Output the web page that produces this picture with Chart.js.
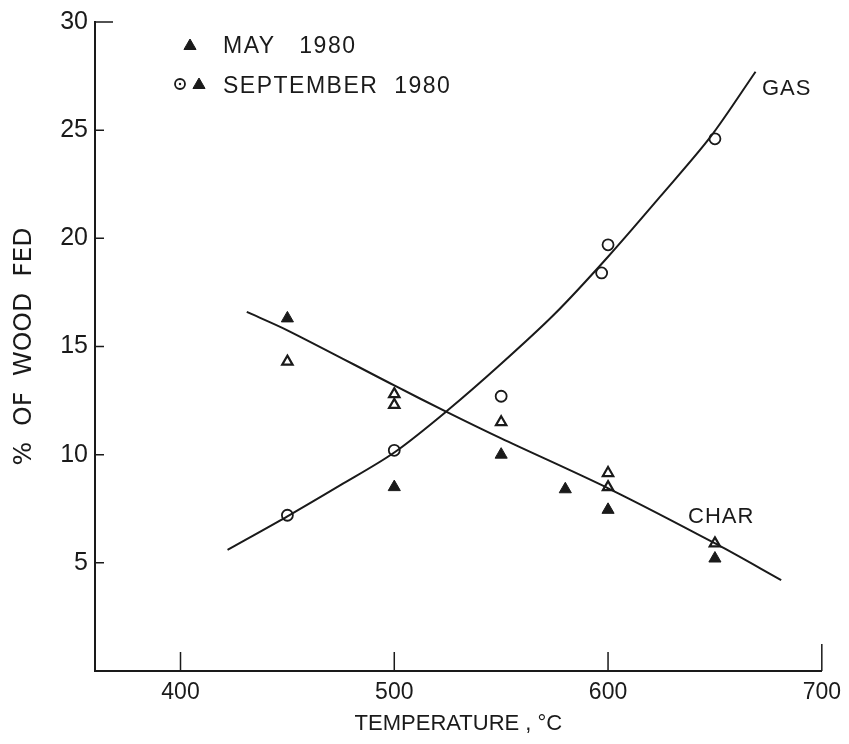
<!DOCTYPE html>
<html>
<head>
<meta charset="utf-8">
<script src="https://cdn.jsdelivr.net/npm/chart.js@4/dist/chart.umd.min.js"></script>
<style>
  html, body { margin: 0; padding: 0; background: #fff; }
  #wrap { width: 849px; height: 744px; }
</style>
</head>
<body>
<div id="wrap"><canvas id="chart" width="849" height="744"></canvas></div>
<script>
// ===== data =====
const xTicks = [400, 500, 600, 700];
const yTicks = [5, 10, 15, 20, 25, 30];

// fitted curves
const gasCurveX = [422, 450, 475, 500, 525, 550, 575, 600, 625, 648, 669];
const gasCurveY = [5.6, 7.15, 8.6, 10.1, 12.05, 14.2, 16.5, 19.15, 22.0, 24.7, 27.7];
const charCurveX = [431, 450, 500, 524, 550, 601, 651, 681];
const charCurveY = [16.6, 15.75, 13.2, 12.0, 10.75, 8.4, 5.85, 4.2];

// September 1980 gas (circles)
const gasSepX = [450, 500, 550, 597, 600, 650];
const gasSepY = [7.2, 10.2, 12.7, 18.4, 19.7, 24.6];
// May 1980 char (filled triangles)
const charMayX = [450, 500, 550, 580, 600, 650];
const charMayY = [16.3, 8.5, 10.0, 8.4, 7.45, 5.2];
// September 1980 char (open triangles)
const charSepX = [450, 500, 500, 550, 600, 600, 650];
const charSepY = [14.3, 12.8, 12.3, 11.5, 9.15, 8.5, 5.9];

const ink = '#1a1a1a';
const pts = (xs, ys) => xs.map((x, i) => ({ x: x, y: ys[i] }));

// ========== 内向刻度、图例、曲线标注 ==========
const decorPlugin = {
    id: 'decor',
    afterDraw(chart) {
        const ctx = chart.ctx;
        const xs = chart.scales.x, ys = chart.scales.y;
        const left = chart.chartArea.left, bottom = chart.chartArea.bottom;
        ctx.save();
        ctx.strokeStyle = ink;
        ctx.lineWidth = 1.5;
        ctx.beginPath();
        yTicks.forEach(v => {
            const py = ys.getPixelForValue(v);
            ctx.moveTo(left, py);
            ctx.lineTo(left + (v === 30 ? 18 : 9), py);
        });
        xTicks.forEach(v => {
            const px = xs.getPixelForValue(v);
            ctx.moveTo(px, bottom);
            ctx.lineTo(px, bottom - (v === 700 ? 27 : 19));
        });
        ctx.stroke();

        // legend
        ctx.fillStyle = ink;
        ctx.strokeStyle = ink;
        ctx.lineWidth = 1;
        Chart.helpers.drawPoint(ctx, { pointStyle: 'triangle', radius: 7, borderWidth: 1 }, 190, 46);
        Chart.helpers.drawPoint(ctx, { pointStyle: 'triangle', radius: 7, borderWidth: 1 }, 199, 85);
        ctx.fillStyle = '#fff';
        ctx.lineWidth = 1.8;
        Chart.helpers.drawPoint(ctx, { pointStyle: 'circle', radius: 5, borderWidth: 1.8 }, 180, 84);
        ctx.fillStyle = ink;
        ctx.beginPath();
        ctx.arc(180, 84, 1.2, 0, Math.PI * 2);
        ctx.fill();

        ctx.font = '23px "Liberation Sans"';
        ctx.textBaseline = 'middle';
        ctx.textAlign = 'left';
        ctx.letterSpacing = '1.5px';
        ctx.fillText('MAY   1980', 223, 47);
        ctx.fillText('SEPTEMBER  1980', 223, 87);

        ctx.font = '22px "Liberation Sans"';
        ctx.letterSpacing = '1px';
        ctx.fillText('GAS', 762, 89);
        ctx.fillText('CHAR', 688, 517);
        ctx.restore();
    }
};

new Chart(document.getElementById('chart'), {
    type: 'scatter',
    data: {
        datasets: [
            {
                label: 'GAS',
                data: pts(gasCurveX, gasCurveY),
                showLine: true,
                borderColor: ink,
                borderWidth: 2,
                pointRadius: 0,
                tension: 0.3
            },
            {
                label: 'CHAR',
                data: pts(charCurveX, charCurveY),
                showLine: true,
                borderColor: ink,
                borderWidth: 2,
                pointRadius: 0,
                tension: 0.3
            },
            {
                label: 'SEPTEMBER 1980 gas',
                data: pts(gasSepX, gasSepY),
                pointStyle: 'circle',
                pointRadius: 5.5,
                pointBorderWidth: 1.8,
                pointBackgroundColor: '#fff',
                pointBorderColor: ink
            },
            {
                label: 'SEPTEMBER 1980 char',
                data: pts(charSepX, charSepY),
                pointStyle: 'triangle',
                pointRadius: 6,
                pointBorderWidth: 2.2,
                pointBackgroundColor: '#fff',
                pointBorderColor: ink
            },
            {
                label: 'MAY 1980',
                data: pts(charMayX, charMayY),
                pointStyle: 'triangle',
                pointRadius: 7,
                pointBorderWidth: 1,
                pointBackgroundColor: ink,
                pointBorderColor: ink
            }
        ]
    },
    options: {
        responsive: false,
        animation: false,
        layout: { padding: { left: 0, right: 26, top: 22, bottom: 0 } },
        plugins: {
            legend: { display: false },
            tooltip: { enabled: false }
        },
        scales: {
            x: {
                type: 'linear',
                min: 360,
                max: 700,
                afterBuildTicks: s => { s.ticks = xTicks.map(v => ({ value: v })); },
                afterFit: s => { s.height = 73; },
                grid: { drawOnChartArea: false, drawTicks: false },
                border: { display: true, color: ink, width: 2 },
                ticks: {
                    padding: 8,
                    color: ink,
                    font: { family: 'Liberation Sans', size: 23 }
                },
                title: {
                    display: true,
                    text: 'TEMPERATURE , °C',
                    color: ink,
                    padding: { top: 0, bottom: 7 },
                    font: { family: 'Liberation Sans', size: 22 }
                }
            },
            y: {
                type: 'linear',
                min: 0,
                max: 30,
                afterBuildTicks: s => { s.ticks = yTicks.map(v => ({ value: v })); },
                afterFit: s => { s.width = 95; },
                grid: { drawOnChartArea: false, drawTicks: false },
                border: { display: true, color: ink, width: 2 },
                ticks: {
                    padding: 7,
                    color: ink,
                    font: { family: 'Liberation Sans', size: 25 }
                },
                title: {
                    display: true,
                    text: '%  OF  WOOD  FED',
                    color: ink,
                    padding: { top: 9, bottom: 0 },
                    font: { family: 'DejaVu Sans', size: 25 }
                }
            }
        }
    },
    plugins: [decorPlugin]
});
</script>
</body>
</html>
